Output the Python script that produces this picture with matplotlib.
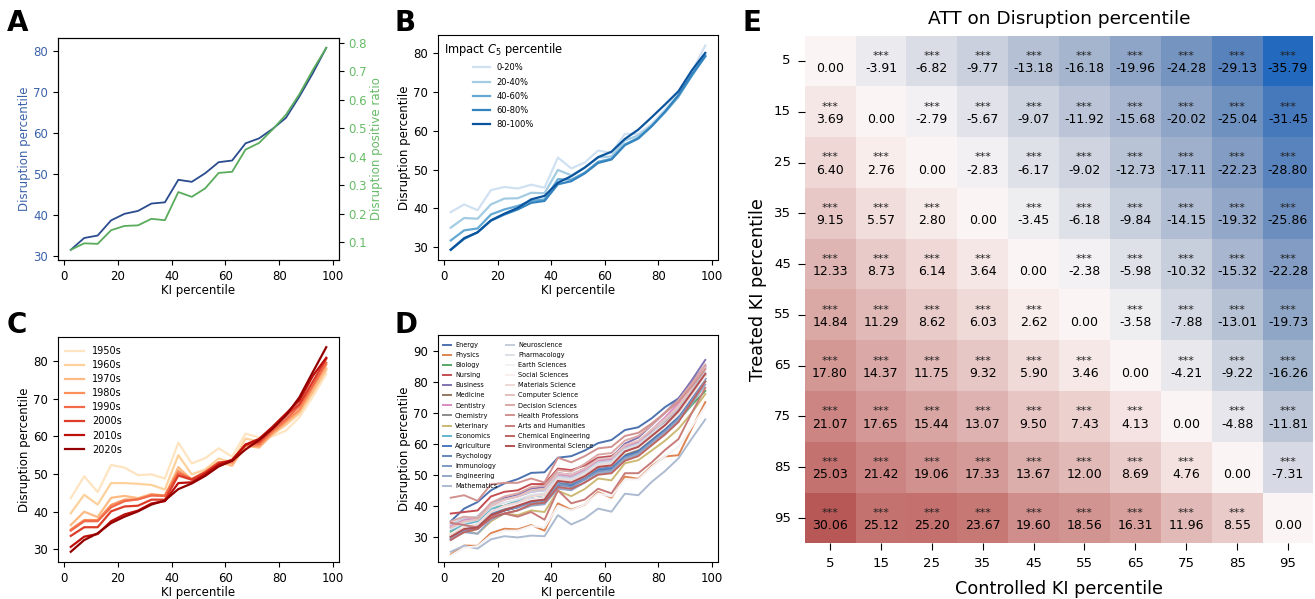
import numpy as np
import matplotlib
matplotlib.use("Agg")
import matplotlib.pyplot as plt
import seaborn as sns

# ---------------- data ----------------
ki = [2.5, 7.5, 12.5, 17.5, 22.5, 27.5, 32.5, 37.5, 42.5, 47.5,
      52.5, 57.5, 62.5, 67.5, 72.5, 77.5, 82.5, 87.5, 92.5, 97.5]

# Panel A
a_disruption = [31.5, 34.4, 35.0, 38.7, 40.3, 41.0, 42.8, 43.1, 48.6, 48.1,
                50.2, 52.9, 53.3, 57.5, 58.7, 61.0, 63.7, 68.9, 74.6, 80.8]
a_positive_ratio = [0.074, 0.097, 0.095, 0.143, 0.158, 0.160, 0.183, 0.178, 0.277, 0.260,
                    0.290, 0.344, 0.348, 0.426, 0.449, 0.496, 0.548, 0.620, 0.705, 0.783]

# Panel B
b_labels = ["0-20%", "20-40%", "40-60%", "60-80%", "80-100%"]
b_0_20 = [39.0, 41.0, 39.5, 44.7, 45.5, 45.1, 46.1, 45.3, 53.1, 50.3,
          51.8, 54.9, 54.3, 59.2, 59.2, 61.8, 65.5, 69.6, 75.2, 82.0]
b_20_40 = [35.0, 37.5, 37.3, 41.0, 42.5, 42.6, 44.0, 43.9, 49.9, 48.5,
           50.5, 53.1, 53.4, 57.5, 58.8, 61.4, 64.8, 68.7, 74.4, 79.6]
b_40_60 = [31.7, 34.3, 34.8, 38.4, 39.7, 40.6, 41.9, 42.3, 47.5, 47.4,
           49.2, 52.0, 52.8, 56.5, 58.2, 61.2, 64.8, 69.0, 74.2, 79.3]
b_60_80 = [29.3, 32.1, 33.8, 36.8, 38.4, 39.7, 41.4, 41.9, 46.2, 47.0,
           49.0, 51.7, 52.6, 56.3, 58.0, 61.2, 65.0, 69.2, 74.5, 79.2]
b_80_100 = [29.3, 32.3, 33.8, 36.9, 38.6, 40.1, 42.3, 43.2, 46.6, 48.3,
            50.5, 53.2, 54.6, 57.9, 60.3, 63.5, 66.8, 70.2, 75.6, 80.1]
b_series = [b_0_20, b_20_40, b_40_60, b_60_80, b_80_100]

# Panel C
c_labels = ["1950s", "1960s", "1970s", "1980s", "1990s", "2000s", "2010s", "2020s"]
c_1950s = [43.6, 49.4, 45.2, 52.4, 51.7, 49.7, 49.9, 48.8, 58.3, 52.8,
           54.2, 56.8, 54.6, 60.7, 59.7, 60.0, 61.5, 65.0, 70.5, 76.5]
c_1960s = [39.6, 44.5, 41.9, 47.6, 47.6, 47.4, 47.1, 45.9, 55.0, 49.9,
           51.2, 54.1, 53.0, 59.4, 58.6, 60.5, 63.0, 66.0, 71.5, 77.5]
c_1970s = [36.5, 40.0, 38.6, 43.7, 44.2, 43.6, 44.7, 44.3, 51.8, 48.5,
           50.8, 53.2, 52.2, 57.5, 57.0, 60.5, 63.5, 66.5, 72.0, 78.0]
c_1980s = [35.3, 37.8, 37.8, 41.8, 43.2, 43.3, 44.5, 44.3, 50.8, 48.5,
           50.5, 53.0, 53.0, 57.5, 57.5, 61.0, 64.0, 67.0, 73.0, 79.0]
c_1990s = [35.0, 37.5, 37.5, 41.2, 42.8, 43.3, 44.3, 44.2, 50.2, 48.7,
           50.5, 52.8, 53.5, 57.6, 58.0, 61.5, 64.5, 68.0, 73.5, 79.5]
c_2000s = [33.6, 35.9, 35.9, 40.1, 41.4, 41.6, 43.2, 43.2, 49.6, 48.5,
           50.4, 53.0, 53.5, 57.8, 58.5, 62.0, 65.5, 68.5, 74.5, 80.5]
c_2010s = [30.7, 33.4, 34.1, 37.5, 39.3, 40.3, 42.2, 42.8, 47.6, 47.8,
           50.0, 52.5, 53.8, 57.8, 59.3, 62.5, 66.0, 69.5, 76.0, 80.8]
c_2020s = [29.4, 32.5, 34.3, 37.0, 38.7, 40.1, 41.9, 43.0, 46.0, 47.5,
           49.5, 52.0, 53.5, 56.5, 59.0, 62.0, 65.5, 70.3, 77.0, 83.6]
c_series = [c_1950s, c_1960s, c_1970s, c_1980s, c_1990s, c_2000s, c_2010s, c_2020s]

# Panel D
d_fields = ["Energy", "Physics", "Biology", "Nursing", "Business", "Medicine",
            "Dentistry", "Chemistry", "Veterinary", "Economics", "Agriculture",
            "Psychology", "Immunology", "Engineering", "Mathematics",
            "Neuroscience", "Pharmacology", "Earth Sciences", "Social Sciences",
            "Materials Science", "Computer Science", "Decision Sciences",
            "Health Professions", "Arts and Humanities", "Chemical Engineering",
            "Environmental Science"]
d_energy = [35.0, 39.1, 41.2, 45.0, 47.2, 48.6, 50.6, 50.8, 55.5, 56.0, 57.8, 60.2, 61.2, 64.4, 65.3, 68.2, 71.8, 74.6, 80.0, 85.0]
d_physics = [24.3, 27.2, 27.1, 31.2, 32.6, 32.4, 33.8, 32.0, 40.8, 38.7, 40.4, 44.4, 42.6, 49.4, 48.7, 52.8, 55.9, 56.3, 65.0, 73.4]
d_biology = [31.5, 34.0, 35.5, 39.5, 40.0, 41.5, 43.0, 43.5, 47.5, 47.0, 49.5, 52.0, 52.5, 56.5, 57.5, 61.0, 64.0, 67.5, 72.5, 77.0]
d_nursing = [37.5, 38.0, 38.5, 43.0, 44.5, 45.0, 47.0, 47.0, 52.0, 51.5, 53.0, 55.5, 56.0, 59.0, 60.5, 64.0, 67.0, 71.0, 76.0, 82.5]
d_business = [33.0, 35.5, 36.5, 40.5, 42.5, 43.5, 45.5, 46.0, 50.5, 50.0, 52.0, 55.0, 55.5, 60.0, 62.0, 66.0, 70.0, 74.5, 80.5, 87.0]
d_medicine = [30.5, 33.0, 33.5, 37.5, 39.0, 40.0, 41.5, 42.0, 47.5, 47.0, 49.0, 52.0, 52.5, 56.5, 58.0, 61.5, 64.5, 68.5, 74.0, 80.0]
d_dentistry = [33.5, 35.5, 36.0, 40.0, 42.0, 43.0, 44.5, 45.0, 50.0, 49.5, 51.5, 54.5, 55.0, 59.0, 60.5, 64.5, 68.5, 73.0, 79.0, 85.0]
d_chemistry = [30.0, 32.5, 33.0, 37.0, 38.5, 39.5, 41.5, 42.0, 47.0, 46.5, 48.5, 51.5, 52.0, 56.0, 57.5, 61.0, 64.5, 68.5, 74.5, 81.0]
d_veterinary = [31.0, 32.2, 31.0, 35.0, 37.5, 37.0, 38.5, 38.0, 44.8, 43.1, 45.4, 48.8, 48.2, 53.7, 54.7, 57.8, 61.0, 64.8, 70.0, 76.0]
d_economics = [32.0, 34.0, 35.0, 39.0, 40.0, 41.5, 43.0, 43.5, 48.0, 47.5, 50.0, 52.5, 53.0, 57.5, 59.0, 62.5, 66.5, 70.5, 77.0, 84.3]
d_agriculture = [29.5, 32.5, 33.5, 37.0, 38.5, 39.5, 41.5, 42.0, 46.5, 46.5, 48.5, 51.5, 52.0, 56.0, 57.5, 61.0, 64.5, 68.5, 74.5, 81.0]
d_psychology = [30.0, 33.0, 33.5, 37.5, 39.5, 40.5, 42.0, 42.5, 47.5, 47.0, 49.0, 52.0, 52.5, 57.0, 58.5, 62.0, 65.5, 69.5, 75.5, 82.0]
d_immunology = [29.0, 32.0, 32.5, 36.5, 38.5, 39.5, 41.0, 41.5, 47.0, 46.0, 48.5, 51.0, 51.5, 55.5, 57.0, 60.5, 64.0, 68.0, 74.0, 80.5]
d_engineering = [29.5, 31.5, 31.0, 35.5, 37.5, 38.5, 40.0, 40.5, 45.5, 45.0, 47.5, 50.5, 51.0, 55.0, 56.5, 60.0, 63.5, 67.5, 73.0, 79.0]
d_mathematics = [25.2, 27.1, 26.2, 29.2, 30.2, 29.8, 30.4, 30.2, 37.0, 34.0, 35.9, 39.1, 38.1, 43.9, 43.4, 47.7, 51.2, 55.3, 61.7, 67.8]
d_neuroscience = [34.0, 36.0, 36.5, 40.5, 42.0, 43.0, 44.5, 45.0, 49.5, 49.0, 51.0, 54.0, 54.5, 58.5, 60.0, 63.5, 67.5, 71.5, 77.0, 83.0]
d_pharmacology = [32.5, 34.5, 35.5, 39.5, 41.0, 42.0, 43.5, 44.0, 49.0, 48.5, 50.5, 53.5, 54.0, 58.0, 59.5, 63.0, 66.5, 70.5, 76.0, 82.0]
d_earth = [24.0, 26.5, 27.0, 30.5, 32.0, 32.0, 33.5, 33.0, 40.0, 38.5, 40.5, 44.0, 43.0, 48.5, 48.5, 52.5, 56.0, 59.0, 65.5, 72.0]
d_social = [31.0, 33.5, 34.0, 38.0, 39.5, 40.5, 42.0, 42.5, 48.0, 47.5, 49.5, 52.5, 53.0, 57.0, 58.5, 62.0, 65.5, 69.5, 75.5, 81.5]
d_materials = [30.5, 33.0, 34.0, 38.0, 40.0, 41.0, 43.0, 43.5, 48.5, 48.0, 50.0, 53.0, 53.5, 57.5, 59.0, 62.5, 66.0, 70.0, 76.0, 82.5]
d_computer = [33.0, 35.0, 35.5, 40.0, 42.0, 43.0, 45.0, 45.5, 50.5, 50.0, 52.0, 55.0, 55.5, 59.5, 61.0, 64.5, 68.0, 72.0, 78.0, 84.5]
d_decision = [35.0, 36.5, 36.0, 41.0, 43.0, 44.0, 46.0, 46.5, 51.5, 51.0, 53.5, 56.5, 57.0, 61.0, 62.5, 66.0, 70.0, 74.0, 79.5, 85.5]
d_health = [42.6, 43.4, 41.6, 46.9, 47.4, 47.4, 48.8, 47.5, 55.5, 54.0, 56.0, 58.5, 59.0, 62.5, 63.5, 66.5, 70.0, 73.5, 78.5, 84.0]
d_arts = [34.5, 33.8, 33.0, 36.5, 37.5, 36.5, 38.0, 35.5, 45.0, 40.8, 42.0, 45.5, 44.0, 50.5, 50.5, 54.0, 58.0, 61.5, 70.0, 78.0]
d_chemeng = [29.0, 31.5, 32.5, 36.0, 37.5, 38.5, 40.5, 41.0, 46.0, 45.5, 47.5, 50.0, 50.5, 54.5, 56.0, 59.5, 63.0, 67.0, 73.5, 80.0]
d_environ = [30.0, 32.5, 33.0, 37.0, 38.5, 40.0, 41.5, 42.0, 48.0, 47.5, 49.5, 52.5, 53.0, 57.5, 59.0, 62.5, 66.0, 70.5, 76.5, 82.5]
d_series = [d_energy, d_physics, d_biology, d_nursing, d_business, d_medicine,
            d_dentistry, d_chemistry, d_veterinary, d_economics, d_agriculture,
            d_psychology, d_immunology, d_engineering, d_mathematics,
            d_neuroscience, d_pharmacology, d_earth, d_social, d_materials,
            d_computer, d_decision, d_health, d_arts, d_chemeng, d_environ]

# Panel E
e_ticks = ["5", "15", "25", "35", "45", "55", "65", "75", "85", "95"]
e_att = [
    [0.00, -3.91, -6.82, -9.77, -13.18, -16.18, -19.96, -24.28, -29.13, -35.79],
    [3.69, 0.00, -2.79, -5.67, -9.07, -11.92, -15.68, -20.02, -25.04, -31.45],
    [6.40, 2.76, 0.00, -2.83, -6.17, -9.02, -12.73, -17.11, -22.23, -28.80],
    [9.15, 5.57, 2.80, 0.00, -3.45, -6.18, -9.84, -14.15, -19.32, -25.86],
    [12.33, 8.73, 6.14, 3.64, 0.00, -2.38, -5.98, -10.32, -15.32, -22.28],
    [14.84, 11.29, 8.62, 6.03, 2.62, 0.00, -3.58, -7.88, -13.01, -19.73],
    [17.80, 14.37, 11.75, 9.32, 5.90, 3.46, 0.00, -4.21, -9.22, -16.26],
    [21.07, 17.65, 15.44, 13.07, 9.50, 7.43, 4.13, 0.00, -4.88, -11.81],
    [25.03, 21.42, 19.06, 17.33, 13.67, 12.00, 8.69, 4.76, 0.00, -7.31],
    [30.06, 25.12, 25.20, 23.67, 19.60, 18.56, 16.31, 11.96, 8.55, 0.00],
]
S = "***"
e_sig = [
    ["", S, S, S, S, S, S, S, S, S],
    [S, "", S, S, S, S, S, S, S, S],
    [S, S, "", S, S, S, S, S, S, S],
    [S, S, S, "", S, S, S, S, S, S],
    [S, S, S, S, "", S, S, S, S, S],
    [S, S, S, S, S, "", S, S, S, S],
    [S, S, S, S, S, S, "", S, S, S],
    [S, S, S, S, S, S, S, "", S, S],
    [S, S, S, S, S, S, S, S, "", S],
    [S, S, S, S, S, S, S, S, S, ""],
]

# ---------------- figure ----------------
fig = plt.figure(figsize=(13.15, 5.99), dpi=100)
TICK = 8.5
LAB = 8.5

def style(ax):
    ax.tick_params(labelsize=TICK)
    ax.set_xlabel("KI percentile", fontsize=LAB, labelpad=1)
    ax.set_ylabel("Disruption percentile", fontsize=LAB, labelpad=2)

# A
axA = fig.add_axes([0.0441, 0.566, 0.2137, 0.371])
blue_line, blue_txt = "#2a4b8d", "#3b62aa"
green_line, green_txt = "#5aab5c", "#66bb66"
axA.plot(ki, a_disruption, color=blue_line, lw=1.3)
axA.set_xlabel("KI percentile", fontsize=LAB, labelpad=1)
axA.set_ylabel("Disruption percentile", fontsize=LAB, color=blue_txt, labelpad=2)
axA.tick_params(axis="y", labelcolor=blue_txt, labelsize=TICK)
axA.tick_params(axis="x", labelsize=TICK)
axA2 = axA.twinx()
axA2.plot(ki, a_positive_ratio, color=green_line, lw=1.3)
axA2.set_ylabel("Disruption positive ratio", fontsize=LAB, color=green_txt, labelpad=2)
axA2.tick_params(axis="y", labelcolor=green_txt, labelsize=TICK)
axA.set_xticks([0, 20, 40, 60, 80, 100])

# B
axB = fig.add_axes([0.3331, 0.566, 0.2129, 0.375])
b_colors = plt.cm.Blues([0.2, 0.36, 0.52, 0.68, 0.86])
for s, lab, c in zip(b_series, b_labels, b_colors):
    axB.plot(ki, s, color=c, lw=1.6, label=lab)
style(axB)
axB.set_xticks([0, 20, 40, 60, 80, 100])
axB.legend(title="Impact $C_5$ percentile", title_fontsize=8.3, fontsize=6,
           frameon=False, loc="upper left", handlelength=2.0, labelspacing=0.62,
           borderaxespad=0.3)

# C
axC = fig.add_axes([0.0441, 0.0618, 0.2137, 0.3756])
c_colors = plt.cm.OrRd(np.linspace(0.15, 0.95, 8))
for s, lab, c in zip(c_series, c_labels, c_colors):
    axC.plot(ki, s, color=c, lw=1.6, label=lab)
style(axC)
axC.set_xticks([0, 20, 40, 60, 80, 100])
axC.legend(fontsize=7, frameon=False, loc="upper left", handlelength=2.0,
           labelspacing=0.42, borderaxespad=0.3, bbox_to_anchor=(0.0, 0.99))

# D
axD = fig.add_axes([0.3331, 0.0618, 0.2129, 0.3788])
d_colors = list(sns.color_palette("deep", 10)) + list(sns.color_palette("vlag", 16))
d_lines = []
for s, lab, c in zip(d_series, d_fields, d_colors):
    ln, = axD.plot(ki, s, color=c, lw=1.4, label=lab)
    d_lines.append(ln)
style(axD)
axD.set_xticks([0, 20, 40, 60, 80, 100])
axD.set_ylim(21.9, 95)
legkw = dict(fontsize=4.7, frameon=False, loc="upper left", handlelength=1.3,
             labelspacing=0.63, borderaxespad=0.3, handletextpad=0.6)
leg1 = axD.legend(d_lines[:15], d_fields[:15], bbox_to_anchor=(0.0, 0.99), **legkw)
axD.add_artist(leg1)
axD.legend(d_lines[15:], d_fields[15:], bbox_to_anchor=(0.225, 0.99), **legkw)

# E
axE = fig.add_axes([0.6119, 0.0928, 0.3869, 0.8478])
sns.heatmap(np.array(e_att), cmap="vlag", center=0, cbar=False, ax=axE,
            xticklabels=e_ticks, yticklabels=e_ticks)
for i in range(len(e_att)):
    for j in range(len(e_att[i])):
        axE.text(j + 0.5, i + 0.65, f"{e_att[i][j]:.2f}", ha="center", va="center",
                 fontsize=9)
        if e_sig[i][j]:
            axE.text(j + 0.5, i + 0.40, e_sig[i][j], ha="center", va="center",
                     fontsize=8, color="#222222")
axE.tick_params(labelsize=9.5, length=5, pad=5)
plt.setp(axE.get_yticklabels(), rotation=0)
plt.setp(axE.get_xticklabels(), rotation=0)
axE.set_title("ATT on Disruption percentile", fontsize=13.3, pad=8)
axE.set_xlabel("Controlled KI percentile", fontsize=12.7, labelpad=7)
axE.set_ylabel("Treated KI percentile", fontsize=12.7, labelpad=5)

# panel letters
lf = dict(fontsize=20, fontweight="bold", family="DejaVu Sans", va="top", ha="left")
fig.text(0.005, 0.985, "A", **lf)
fig.text(0.300, 0.985, "B", **lf)
fig.text(0.005, 0.480, "C", **lf)
fig.text(0.300, 0.480, "D", **lf)
fig.text(0.565, 0.985, "E", **lf)

fig.savefig("out.png", dpi=100)
